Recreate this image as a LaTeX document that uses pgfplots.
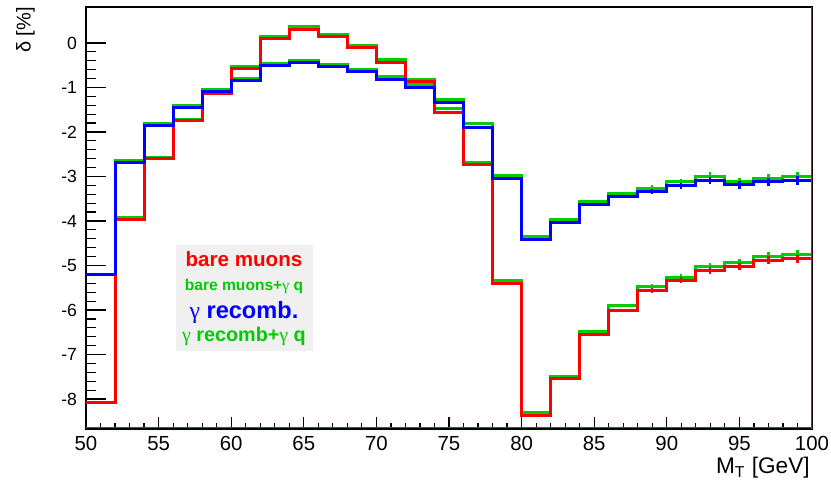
\documentclass[border=0pt]{standalone}
\usepackage{pgfplots}
\pgfplotsset{compat=1.18}
\usepackage{fontspec}
\setmainfont{Liberation Sans}
\newfontfamily\serifg{Liberation Serif}
\newcommand\g{{\serifg\mdseries γ}}
\definecolor{rred}{RGB}{255,0,0}
\definecolor{rgreen}{RGB}{0,204,0}
\definecolor{rblue}{RGB}{0,0,255}
\definecolor{legbg}{RGB}{240,240,240}
\begin{document}
\begin{tikzpicture}
\begin{axis}[
  scale only axis, width=363pt, height=211pt,
  xmin=50, xmax=100, ymin=-8.674, ymax=0.809,
  xtick={50,55,...,100}, ytick={-8,-7,...,0},
  minor x tick num=4, minor y tick num=4,
  xtick pos=bottom, ytick pos=left, tick align=inside,
  xtick style={black,line width=0.6pt,/pgfplots/major tick length=6pt,/pgfplots/minor tick length=3pt},
  ytick style={black,line width=0.6pt,/pgfplots/major tick length=10pt,/pgfplots/minor tick length=5pt},
  /pgf/number format/assume math mode=true,
  xticklabel style={font=\fontsize{10.2}{12}\selectfont},
  yticklabel style={font=\fontsize{8.8}{10}\selectfont, xshift=-1pt},
  axis line style={black, line width=1pt},
  every axis plot/.append style={line width=1.5pt, mark=none},
]
% green: bare muons + gamma q
\addplot[const plot, color=rgreen] coordinates {
(50,-8.08)(52,-3.93)(54,-2.57)(56,-1.72)(58,-1.10)(60,-0.53)(62,0.14)(64,0.36)(66,0.20)(68,-0.05)
(70,-0.38)(72,-0.81)(74,-1.48)(76,-2.68)(78,-5.33)(80,-8.30)(82,-7.49)(84,-6.48)(86,-5.91)(88,-5.48)
(90,-5.26)(92,-5.03)(94,-4.94)(96,-4.79)(98,-4.75)(100,-4.75)};
% green: gamma recomb + gamma q
\addplot[const plot, color=rgreen] coordinates {
(50,-5.20)(52,-2.65)(54,-1.82)(56,-1.41)(58,-1.04)(60,-0.80)(62,-0.46)(64,-0.40)(66,-0.48)(68,-0.59)
(70,-0.76)(72,-0.93)(74,-1.27)(76,-1.81)(78,-2.98)(80,-4.34)(82,-3.97)(84,-3.56)(86,-3.38)(88,-3.26)
(90,-3.12)(92,-2.99)(94,-3.11)(96,-3.04)(98,-2.99)(100,-2.99)};
% red: bare muons
\addplot[const plot, color=rred] coordinates {
(50,-8.08)(52,-3.96)(54,-2.60)(56,-1.75)(58,-1.14)(60,-0.57)(62,0.09)(64,0.31)(66,0.14)(68,-0.10)
(70,-0.44)(72,-0.87)(74,-1.56)(76,-2.74)(78,-5.41)(80,-8.37)(82,-7.55)(84,-6.55)(86,-6.00)(88,-5.56)
(90,-5.33)(92,-5.12)(94,-5.03)(96,-4.88)(98,-4.85)(100,-4.85)};
% blue: gamma recomb.
\addplot[const plot, color=rblue] coordinates {
(50,-5.20)(52,-2.68)(54,-1.85)(56,-1.44)(58,-1.08)(60,-0.84)(62,-0.50)(64,-0.44)(66,-0.52)(68,-0.63)
(70,-0.82)(72,-1.00)(74,-1.34)(76,-1.89)(78,-3.05)(80,-4.41)(82,-4.04)(84,-3.63)(86,-3.46)(88,-3.34)
(90,-3.21)(92,-3.09)(94,-3.19)(96,-3.12)(98,-3.09)(100,-3.09)};
% error bars
\addplot[draw=none, mark=none, error bars/.cd, y dir=both, y explicit, error mark=none,
  error bar style={draw=rgreen, line width=1.1pt}] coordinates {
(89,-5.48)+-(0,0.06)(91,-5.26)+-(0,0.07)(93,-5.03)+-(0,0.08)(95,-4.94)+-(0,0.08)(97,-4.79)+-(0,0.09)(99,-4.75)+-(0,0.09)};
\addplot[draw=none, mark=none, error bars/.cd, y dir=both, y explicit, error mark=none,
  error bar style={draw=rgreen, line width=1.1pt}] coordinates {
(89,-3.26)+-(0,0.06)(91,-3.12)+-(0,0.07)(93,-2.99)+-(0,0.08)(95,-3.11)+-(0,0.08)(97,-3.04)+-(0,0.09)(99,-2.99)+-(0,0.09)};
\addplot[draw=none, mark=none, error bars/.cd, y dir=both, y explicit, error mark=none,
  error bar style={draw=rred, line width=1.1pt}] coordinates {
(89,-5.56)+-(0,0.06)(91,-5.33)+-(0,0.07)(93,-5.12)+-(0,0.08)(95,-5.03)+-(0,0.08)(97,-4.88)+-(0,0.09)(99,-4.85)+-(0,0.09)};
\addplot[draw=none, mark=none, error bars/.cd, y dir=both, y explicit, error mark=none,
  error bar style={draw=rblue, line width=1.1pt}] coordinates {
(89,-3.34)+-(0,0.06)(91,-3.21)+-(0,0.07)(93,-3.09)+-(0,0.08)(95,-3.19)+-(0,0.08)(97,-3.12)+-(0,0.09)(99,-3.09)+-(0,0.09)};
% frame overlays
\draw[rred, line width=1.2pt] (rel axis cs:1,0) -- (rel axis cs:1,1);
\draw[rred, line width=0.5pt] ([yshift=0.6pt]rel axis cs:0,0) -- ([yshift=0.6pt]rel axis cs:1,0);
% legend box
\fill[legbg] (axis description cs:0.124,0.185) rectangle (axis description cs:0.313,0.436);
\node[anchor=base, inner sep=0pt, text=rred, font=\fontsize{10.3}{12}\selectfont\bfseries] at (axis description cs:0.2176,0.386) {bare muons};
\node[anchor=base, inner sep=0pt, text=rgreen, font=\fontsize{7.8}{9}\selectfont\bfseries] at (axis description cs:0.2176,0.329) {bare muons+\g{} q};
\node[anchor=base, inner sep=0pt, text=rblue, font=\fontsize{11.8}{14}\selectfont\bfseries] at (axis description cs:0.2176,0.262) {\g{} recomb.};
\node[anchor=base, inner sep=0pt, text=rgreen, font=\fontsize{9.9}{12}\selectfont\bfseries] at (axis description cs:0.2176,0.207) {\g{} recomb+\g{} q};
\end{axis}
% axis labels
\node[anchor=base east, inner sep=0pt, font=\fontsize{11.3}{13}\selectfont] at (362pt,-22.5pt) {M\textsubscript{T} [GeV]};
\node[rotate=90, anchor=base east, inner sep=0pt, font=\fontsize{10}{12}\selectfont] at (-27.7pt,211pt) {δ [\%]};
\pgfresetboundingbox
\path (-43pt,-26pt) rectangle (372.5pt,214.5pt);
\end{tikzpicture}
\end{document}
